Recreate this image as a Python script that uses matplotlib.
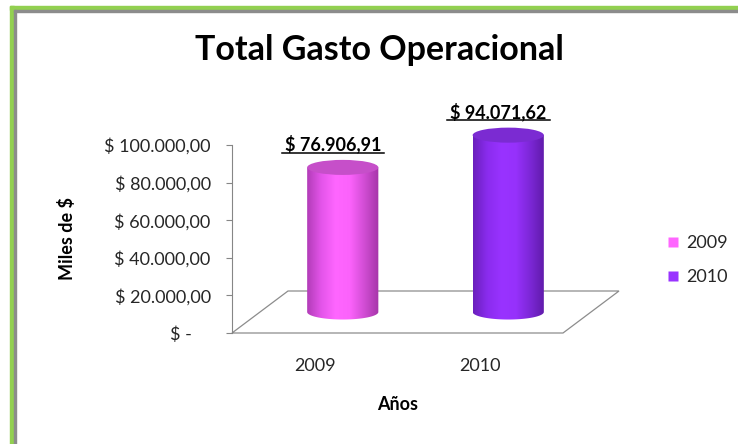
import numpy as np
import matplotlib
matplotlib.use("Agg")
import matplotlib.pyplot as plt
from matplotlib.colors import LinearSegmentedColormap
from matplotlib.lines import Line2D
from matplotlib.patches import Ellipse, Polygon, Rectangle
from matplotlib.transforms import Affine2D, IdentityTransform

plt.rcParams['font.family'] = ['Lato', 'DejaVu Sans']

years = ['2009', '2010']
gasto = [76906.91, 94071.62]
y_ticks = [0, 20000, 40000, 60000, 80000, 100000]
face_colors = ['#ff66ff', '#9933ff']
body_shades = [
    ['#b23cb8', '#e455ea', '#ff66ff', '#fb62fb', '#d14dd4', '#a536a8'],
    ['#6a1fbc', '#8a2cee', '#9933ff', '#9631fb', '#7c27d6', '#5f1aa8'],
]
top_colors = ['#c64fc9', '#7b2bd2']

W, H, DPI = 738, 444, 100
DEPTH = np.array([56, 42])   # floor depth in pixels, bars stand at half depth
TXT = '#262626'
FS = 13


def money(v):
    if v == 0:
        return '$ -    '
    s = f'{v:,.2f}'.replace(',', 'X').replace('.', ',').replace('X', '.')
    return f'$ {s}'


fig = plt.figure(figsize=(W / DPI, H / DPI), dpi=DPI)
ax = fig.add_axes([232 / W, (H - 333) / H, 331 / W, (333 - 100) / H])

x = np.arange(len(years))
bw = 0.43     # cylinder width (category units)
eh = 8000     # ellipse height (value units)
mid = ax.transData + Affine2D().translate(*(DEPTH / 2))

t = np.linspace(np.pi, 2 * np.pi, 80)
for i, v in enumerate(gasto):
    cx = x[i]
    ex = cx + bw / 2 * np.cos(t)
    ey = eh / 2 * np.sin(t)
    body = np.column_stack([np.r_[ex, cx + bw / 2, cx - bw / 2], np.r_[ey, v, v]])
    clip = Polygon(body, closed=True, transform=mid)
    cmap = LinearSegmentedColormap.from_list(f'cyl{i}', body_shades[i])
    im = ax.imshow(np.linspace(0, 1, 256)[None, :], cmap=cmap, aspect='auto',
                   extent=[cx - bw / 2, cx + bw / 2, -eh / 2, v],
                   transform=mid, interpolation='bilinear', zorder=3)
    im.set_clip_path(clip)
    ax.add_patch(Ellipse((cx, v), bw, eh, transform=mid, facecolor=top_colors[i],
                         edgecolor='none', zorder=4))

ax.set_xlim(-0.5, 1.5)
ax.set_ylim(0, 100000 * (333 - 100) / 188)

# floor
fx = ax.transData.transform([(-0.5, 0), (1.5, 0)])
floor = np.array([fx[0], fx[1], fx[1] + DEPTH, fx[0] + DEPTH])
ax.add_patch(Polygon(floor, closed=True, transform=IdentityTransform(), facecolor='white',
                     edgecolor='#8c8c8c', lw=0.9, zorder=1, clip_on=False))

for s in ['top', 'right', 'bottom']:
    ax.spines[s].set_visible(False)
ax.spines['left'].set_bounds(0, 100000)
ax.spines['left'].set_color('#868686')
ax.set_yticks(y_ticks, [money(v) for v in y_ticks])
ax.tick_params(axis='y', length=4.3, color='#868686', pad=11, labelsize=FS, labelcolor=TXT)
ax.set_xticks(x, years)
ax.tick_params(axis='x', length=0, pad=18, labelsize=FS, labelcolor=TXT)

ax.set_xlabel('Años', fontsize=FS, fontweight='bold', color='black')
ax.xaxis.set_label_coords(0.5, -0.27)
ax.set_ylabel('Miles de $', fontsize=FS, fontweight='bold', color='black')
ax.yaxis.set_label_coords((76 - 232) / 331, (333 - 239) / 233)

lbls = []
for i, v in enumerate(gasto):
    a = ax.annotate(money(v), (x[i], v), xycoords=mid, xytext=(-7, 12.5),
                    textcoords='offset points', ha='center', va='baseline',
                    fontsize=FS, fontweight='bold', color='black')
    lbls.append(a)

handles = [Line2D([], [], ls='none', marker='s', markersize=7, markerfacecolor=c,
                  markeredgecolor='none') for c in face_colors]
fig.legend(handles, years, loc='center left', bbox_to_anchor=(668 / W, (H - 260) / H),
           frameon=False, fontsize=FS, handlelength=0.55, handletextpad=0.45,
           labelspacing=1.0, borderpad=0, borderaxespad=0, labelcolor=TXT)

fig.text(379 / W, (H - 60) / H, 'Total Gasto Operacional', ha='center', va='baseline',
         fontsize=24.5, fontweight='bold')

# frame: green band with thin gray inner line
green, gray = '#92d050', '#8c8c8c'
fig.add_artist(Rectangle((10 / W, 0), 4 / W, (H - 6) / H, transform=fig.transFigure, color=green))
fig.add_artist(Rectangle((10 / W, (H - 10) / H), (W - 10) / W, 4 / H, transform=fig.transFigure, color=green))
fig.add_artist(Rectangle((14 / W, 0), 2 / W, (H - 10) / H, transform=fig.transFigure, color=gray))
fig.add_artist(Rectangle((14 / W, (H - 12) / H), (W - 14) / W, 2 / H, transform=fig.transFigure, color=gray))

fig.canvas.draw()
for a in lbls:
    bb = a.get_window_extent()
    fig.add_artist(Line2D([bb.x0 - 3, bb.x1 + 3], [bb.y0 + 0.5, bb.y0 + 0.5],
                          transform=IdentityTransform(), color='black', lw=1.1))

fig.savefig('out.png', dpi=DPI)
